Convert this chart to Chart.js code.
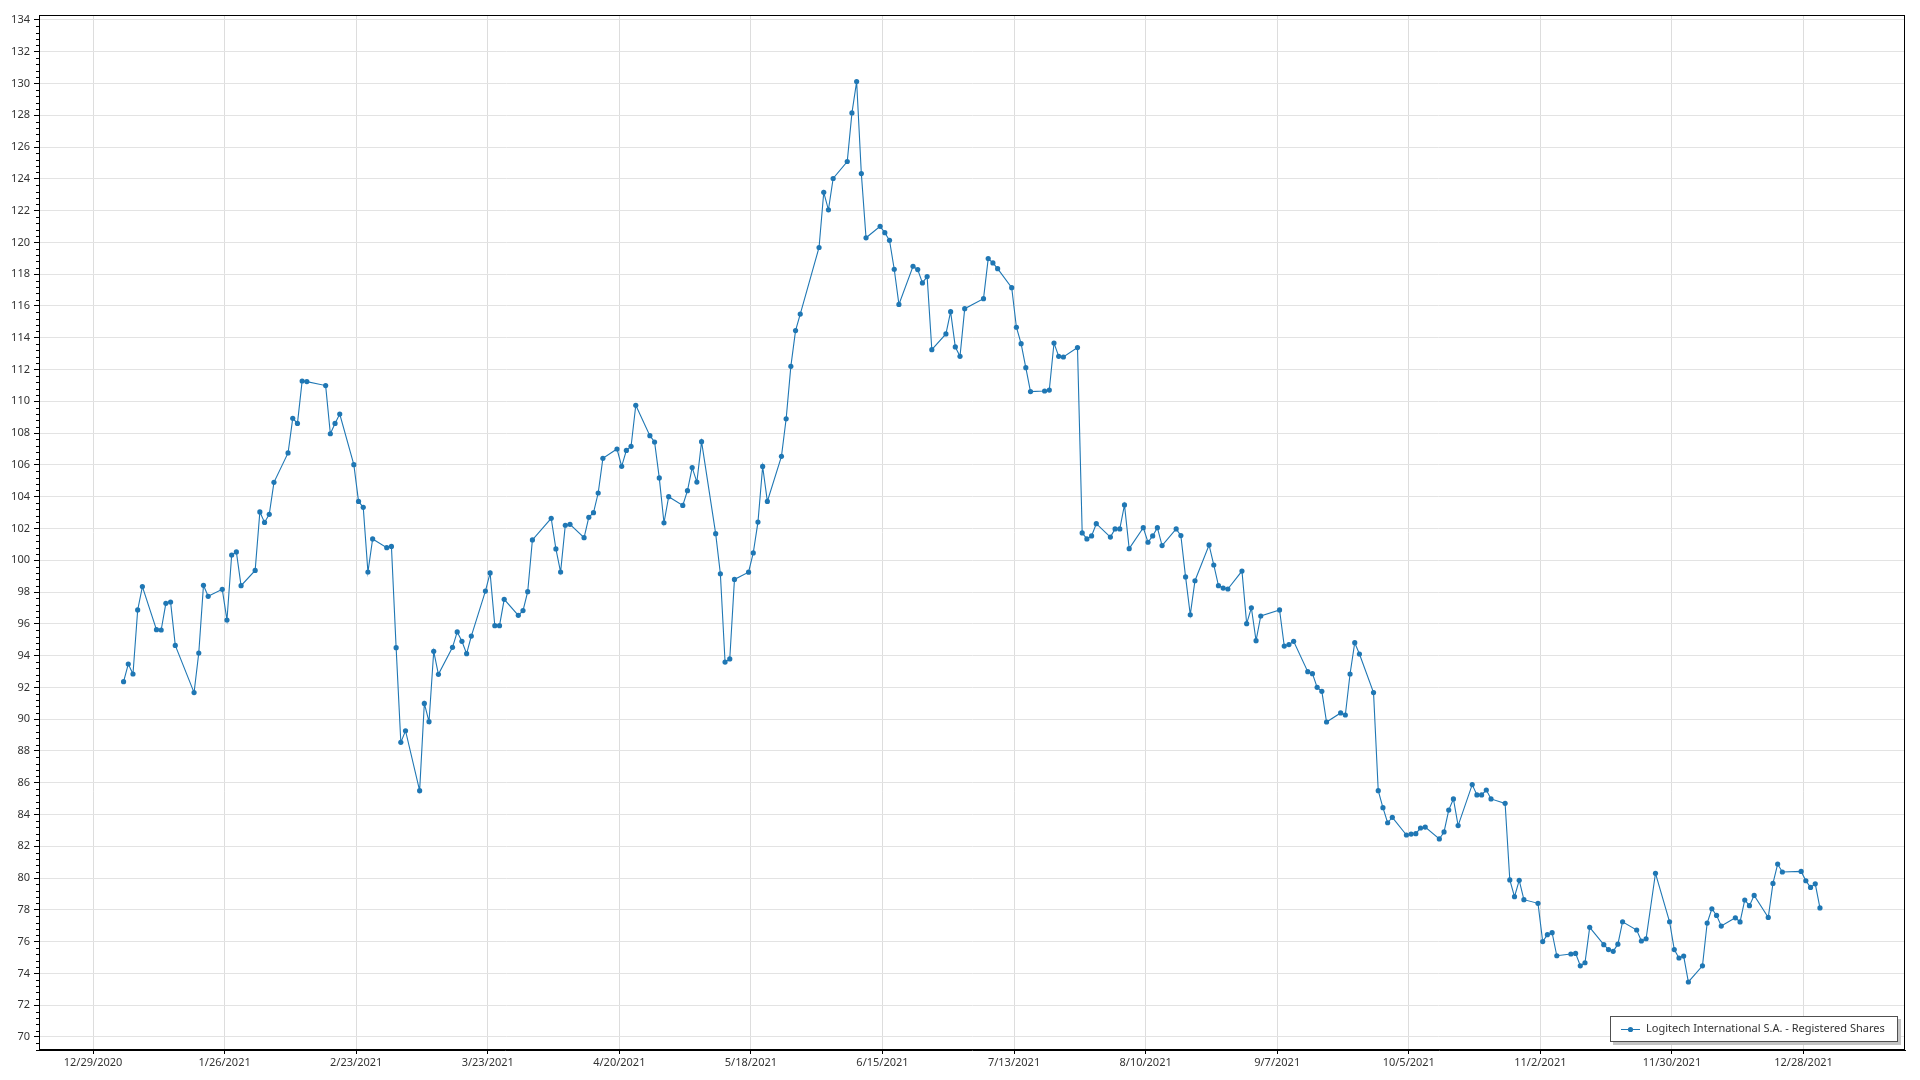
<!DOCTYPE html>
<html lang="en">
<head>
<meta charset="utf-8">
<title>Logitech International S.A. - Registered Shares</title>
<script src="https://cdn.jsdelivr.net/npm/chart.js"></script>
<style>
    html, body { margin: 0; padding: 0; background: #fff; }
    #chartBox { position: relative; width: 1920px; height: 1080px; }
</style>
</head>
<body>
<div id="chartBox"><canvas id="priceChart"></canvas></div>
<script>
// 数据
var seriesLabel = 'Logitech International S.A. - Registered Shares';

var tradeDates = [
    '2021-01-04', '2021-01-05', '2021-01-06', '2021-01-07', '2021-01-08', '2021-01-11', '2021-01-12', '2021-01-13',
    '2021-01-14', '2021-01-15', '2021-01-19', '2021-01-20', '2021-01-21', '2021-01-22', '2021-01-25', '2021-01-26',
    '2021-01-27', '2021-01-28', '2021-01-29',
    '2021-02-01', '2021-02-02', '2021-02-03', '2021-02-04', '2021-02-05', '2021-02-08', '2021-02-09', '2021-02-10',
    '2021-02-11', '2021-02-12', '2021-02-16', '2021-02-17', '2021-02-18', '2021-02-19', '2021-02-22', '2021-02-23',
    '2021-02-24', '2021-02-25', '2021-02-26',
    '2021-03-01', '2021-03-02', '2021-03-03', '2021-03-04', '2021-03-05', '2021-03-08', '2021-03-09', '2021-03-10',
    '2021-03-11', '2021-03-12', '2021-03-15', '2021-03-16', '2021-03-17', '2021-03-18', '2021-03-19', '2021-03-22',
    '2021-03-23', '2021-03-24', '2021-03-25', '2021-03-26', '2021-03-29', '2021-03-30', '2021-03-31',
    '2021-04-01', '2021-04-05', '2021-04-06', '2021-04-07', '2021-04-08', '2021-04-09', '2021-04-12', '2021-04-13',
    '2021-04-14', '2021-04-15', '2021-04-16', '2021-04-19', '2021-04-20', '2021-04-21', '2021-04-22', '2021-04-23',
    '2021-04-26', '2021-04-27', '2021-04-28', '2021-04-29', '2021-04-30',
    '2021-05-03', '2021-05-04', '2021-05-05', '2021-05-06', '2021-05-07', '2021-05-10', '2021-05-11', '2021-05-12',
    '2021-05-13', '2021-05-14', '2021-05-17', '2021-05-18', '2021-05-19', '2021-05-20', '2021-05-21', '2021-05-24',
    '2021-05-25', '2021-05-26', '2021-05-27', '2021-05-28',
    '2021-06-01', '2021-06-02', '2021-06-03', '2021-06-04', '2021-06-07', '2021-06-08', '2021-06-09', '2021-06-10',
    '2021-06-11', '2021-06-14', '2021-06-15', '2021-06-16', '2021-06-17', '2021-06-18', '2021-06-21', '2021-06-22',
    '2021-06-23', '2021-06-24', '2021-06-25', '2021-06-28', '2021-06-29', '2021-06-30',
    '2021-07-01', '2021-07-02', '2021-07-06', '2021-07-07', '2021-07-08', '2021-07-09', '2021-07-12', '2021-07-13',
    '2021-07-14', '2021-07-15', '2021-07-16', '2021-07-19', '2021-07-20', '2021-07-21', '2021-07-22', '2021-07-23',
    '2021-07-26', '2021-07-27', '2021-07-28', '2021-07-29', '2021-07-30',
    '2021-08-02', '2021-08-03', '2021-08-04', '2021-08-05', '2021-08-06', '2021-08-09', '2021-08-10', '2021-08-11',
    '2021-08-12', '2021-08-13', '2021-08-16', '2021-08-17', '2021-08-18', '2021-08-19', '2021-08-20', '2021-08-23',
    '2021-08-24', '2021-08-25', '2021-08-26', '2021-08-27', '2021-08-30', '2021-08-31',
    '2021-09-01', '2021-09-02', '2021-09-03', '2021-09-07', '2021-09-08', '2021-09-09', '2021-09-10', '2021-09-13',
    '2021-09-14', '2021-09-15', '2021-09-16', '2021-09-17', '2021-09-20', '2021-09-21', '2021-09-22', '2021-09-23',
    '2021-09-24', '2021-09-27', '2021-09-28', '2021-09-29', '2021-09-30',
    '2021-10-01', '2021-10-04', '2021-10-05', '2021-10-06', '2021-10-07', '2021-10-08', '2021-10-11', '2021-10-12',
    '2021-10-13', '2021-10-14', '2021-10-15', '2021-10-18', '2021-10-19', '2021-10-20', '2021-10-21', '2021-10-22',
    '2021-10-25', '2021-10-26', '2021-10-27', '2021-10-28', '2021-10-29',
    '2021-11-01', '2021-11-02', '2021-11-03', '2021-11-04', '2021-11-05', '2021-11-08', '2021-11-09', '2021-11-10',
    '2021-11-11', '2021-11-12', '2021-11-15', '2021-11-16', '2021-11-17', '2021-11-18', '2021-11-19', '2021-11-22',
    '2021-11-23', '2021-11-24', '2021-11-26', '2021-11-29', '2021-11-30',
    '2021-12-01', '2021-12-02', '2021-12-03', '2021-12-06', '2021-12-07', '2021-12-08', '2021-12-09', '2021-12-10',
    '2021-12-13', '2021-12-14', '2021-12-15', '2021-12-16', '2021-12-17', '2021-12-20', '2021-12-21', '2021-12-22',
    '2021-12-23', '2021-12-27', '2021-12-28', '2021-12-29', '2021-12-30', '2021-12-31'
];

var closePrices = [
    92.36, 93.47, 92.84, 96.87, 98.34, 95.63, 95.61, 97.29,
    97.37, 94.64, 91.67, 94.16, 98.42, 97.73, 98.17, 96.24,
    100.33, 100.52, 98.40,
    99.36, 103.04, 102.38, 102.89, 104.90, 106.75, 108.93, 108.61,
    111.28, 111.24, 110.99, 107.96, 108.61, 109.20, 106.01, 103.70,
    103.33, 99.26, 101.34,
    100.79, 100.87, 94.50, 88.54, 89.27, 85.50, 90.99, 89.84,
    94.27, 92.82, 94.52, 95.49, 94.90, 94.12, 95.23, 98.06,
    99.20, 95.88, 95.88, 97.54, 96.53, 96.83, 98.02,
    101.28, 102.64, 100.71, 99.26, 102.20, 102.26, 101.42, 102.70,
    102.99, 104.23, 106.41, 107.00, 105.91, 106.91, 107.17, 109.75,
    107.84, 107.44, 105.18, 102.36, 104.00,
    103.45, 104.38, 105.83, 104.92, 107.46, 101.67, 99.15, 93.59,
    93.79, 98.79, 99.25, 100.46, 102.40, 105.90, 103.70, 106.54,
    108.90, 112.20, 114.45, 115.49,
    119.68, 123.15, 122.05, 124.02, 125.09, 128.15, 130.12, 124.33,
    120.29, 121.01, 120.61, 120.13, 118.31, 116.10, 118.50, 118.29,
    117.45, 117.85, 113.25, 114.24, 115.64, 113.42,
    112.83, 115.83, 116.46, 118.98, 118.71, 118.35, 117.15, 114.66,
    113.63, 112.12, 110.61, 110.65, 110.71, 113.67, 112.83, 112.79,
    113.38, 101.72, 101.34, 101.53, 102.30,
    101.46, 101.97, 101.97, 103.48, 100.73, 102.05, 101.13, 101.53,
    102.05, 100.92, 101.97, 101.55, 98.95, 96.57, 98.71, 100.96,
    99.70, 98.40, 98.25, 98.19, 99.32, 96.01,
    97.01, 94.94, 96.49, 96.87, 94.60, 94.69, 94.90, 92.99,
    92.86, 92.00, 91.75, 89.82, 90.39, 90.26, 92.84, 94.81,
    94.10, 91.67, 85.50, 84.43, 83.48,
    83.82, 82.71, 82.77, 82.79, 83.15, 83.21, 82.46, 82.90,
    84.28, 84.98, 83.30, 85.88, 85.23, 85.23, 85.54, 84.98,
    84.70, 79.88, 78.83, 79.86, 78.64,
    78.41, 76.00, 76.44, 76.56, 75.11, 75.22, 75.26, 74.48,
    74.67, 76.90, 75.81, 75.50, 75.39, 75.84, 77.25, 76.73,
    76.04, 76.18, 80.30, 77.25, 75.50,
    74.97, 75.09, 73.46, 74.48, 77.17, 78.07, 77.65, 76.98,
    77.50, 77.24, 78.62, 78.26, 78.91, 77.52, 79.66, 80.88,
    80.38, 80.42, 79.83, 79.41, 79.64, 78.12
];

var xTickLabels = [
    '12/29/2020', '1/26/2021', '2/23/2021', '3/23/2021', '4/20/2021', '5/18/2021', '6/15/2021',
    '7/13/2021', '8/10/2021', '9/7/2021', '10/5/2021', '11/2/2021', '11/30/2021', '12/28/2021'
];

var yTickMin = 70;
var yTickMax = 134;
var yTickStep = 2;
var yMinorStep = 0.4;

var lineColor = '#1f77b4';

// 日期换算成天数（以 12/29/2020 为 0）
var DAY_MS = 86400000;
var baseTime = Date.UTC(2020, 11, 29);

function isoToDay(s) {
    var p = s.split('-');
    return (Date.UTC(+p[0], +p[1] - 1, +p[2]) - baseTime) / DAY_MS;
}

function usToDay(s) {
    var p = s.split('/');
    return (Date.UTC(+p[2], +p[0] - 1, +p[1]) - baseTime) / DAY_MS;
}

// 收盘价点画在当天中午
var points = [];
for (var i = 0; i < tradeDates.length; i++) {
    points.push({ x: isoToDay(tradeDates[i]) + 0.5, y: closePrices[i] });
}

// 边框
var framePlugin = {
    id: 'frame',
    afterDraw: function(chart) {
        var a = chart.chartArea;
        var ctx = chart.ctx;
        ctx.save();
        ctx.strokeStyle = '#000';
        ctx.lineWidth = 1;
        ctx.strokeRect(Math.round(a.left) + 0.5, Math.round(a.top) + 0.5,
            Math.round(a.right - a.left) - 1, Math.round(a.bottom - a.top) - 1);
        ctx.restore();
    }
};

// Y 轴小刻度
var minorTickPlugin = {
    id: 'minorTicks',
    afterDraw: function(chart) {
        var y = chart.scales.y;
        var ctx = chart.ctx;
        var left = Math.round(chart.chartArea.left);
        var n = Math.round((yTickMax - yTickMin + 2 * yTickStep) / yMinorStep);
        ctx.save();
        ctx.strokeStyle = '#000';
        ctx.lineWidth = 1;
        ctx.beginPath();
        for (var i = 0; i <= n; i++) {
            var v = yTickMin - yTickStep + i * yMinorStep;
            if (i % 5 === 0 || v < y.min || v > y.max) continue;
            var py = Math.round(y.getPixelForValue(v)) + 0.5;
            ctx.moveTo(left - 3, py);
            ctx.lineTo(left, py);
        }
        ctx.stroke();
        ctx.restore();
    }
};

// 右下角图例
var legendBoxPlugin = {
    id: 'legendBox',
    afterDraw: function(chart) {
        var a = chart.chartArea;
        var ctx = chart.ctx;
        var ds = chart.data.datasets[0];
        ctx.save();
        ctx.font = "11px 'Noto Sans', sans-serif";
        var textW = ctx.measureText(ds.label).width;
        var w = Math.round(36 + textW + 13);
        var h = 26;
        var right = Math.round(a.right) - 7;
        var bottom = Math.round(a.bottom) - 8;
        var left = right - w;
        var top = bottom - h;

        // 阴影
        ctx.fillStyle = '#c4c4c4';
        ctx.fillRect(left + 3, top + 3, w, h);
        ctx.fillStyle = '#fff';
        ctx.fillRect(left, top, w, h);
        ctx.strokeStyle = '#505050';
        ctx.lineWidth = 1;
        ctx.strokeRect(left + 0.5, top + 0.5, w - 1, h - 1);

        var cy = top + h / 2;
        ctx.strokeStyle = ds.borderColor;
        ctx.beginPath();
        ctx.moveTo(left + 11, Math.round(cy) + 0.5);
        ctx.lineTo(left + 30, Math.round(cy) + 0.5);
        ctx.stroke();
        ctx.fillStyle = ds.pointBackgroundColor;
        ctx.beginPath();
        ctx.arc(left + 20.5, Math.round(cy) + 0.5, ds.pointRadius, 0, Math.PI * 2);
        ctx.fill();

        ctx.fillStyle = '#333';
        ctx.textBaseline = 'middle';
        ctx.textAlign = 'left';
        ctx.fillText(ds.label, left + 36, cy);
        ctx.restore();
    }
};

Chart.defaults.font.family = "'Noto Sans', sans-serif";
Chart.defaults.font.size = 11;
Chart.defaults.color = '#333';

var ctx = document.getElementById('priceChart');
var priceChart = new Chart(ctx, {
    type: 'line',
    data: {
        datasets: [{
            label: seriesLabel,
            data: points,
            borderColor: lineColor,
            backgroundColor: lineColor,
            borderWidth: 1.1,
            pointRadius: 2.6,
            pointBorderWidth: 0,
            pointBackgroundColor: lineColor,
            tension: 0,
            fill: false
        }]
    },
    options: {
        responsive: true,
        maintainAspectRatio: false,
        animation: false,
        events: [],
        layout: {
            padding: { top: 15, right: 15, left: 0, bottom: 0 }
        },
        plugins: {
            legend: { display: false },
            tooltip: { enabled: false }
        },
        scales: {
            x: {
                type: 'linear',
                min: -11.5,
                max: 385.6,
                afterBuildTicks: function(scale) {
                    var ticks = [];
                    for (var i = 0; i < xTickLabels.length; i++) {
                        ticks.push({ value: usToDay(xTickLabels[i]) });
                    }
                    scale.ticks = ticks;
                },
                afterFit: function(scale) {
                    scale.height = 30;
                },
                ticks: {
                    maxRotation: 0,
                    autoSkip: false,
                    padding: 2,
                    callback: function(value, index) {
                        return xTickLabels[index];
                    }
                },
                grid: {
                    color: '#dddddd',
                    tickColor: '#000',
                    tickLength: 4
                },
                border: { display: true, color: '#000', width: 1 }
            },
            y: {
                type: 'linear',
                min: 69.18,
                max: 134.31,
                afterBuildTicks: function(scale) {
                    var ticks = [];
                    for (var v = yTickMin; v <= yTickMax; v += yTickStep) {
                        ticks.push({ value: v });
                    }
                    scale.ticks = ticks;
                },
                afterFit: function(scale) {
                    scale.width = 39;
                },
                ticks: {
                    autoSkip: false,
                    padding: 4
                },
                grid: {
                    color: '#e3e3e3',
                    tickColor: '#000',
                    tickLength: 5
                },
                border: { display: true, color: '#000', width: 1 }
            }
        }
    },
    plugins: [framePlugin, minorTickPlugin, legendBoxPlugin]
});
</script>
</body>
</html>
